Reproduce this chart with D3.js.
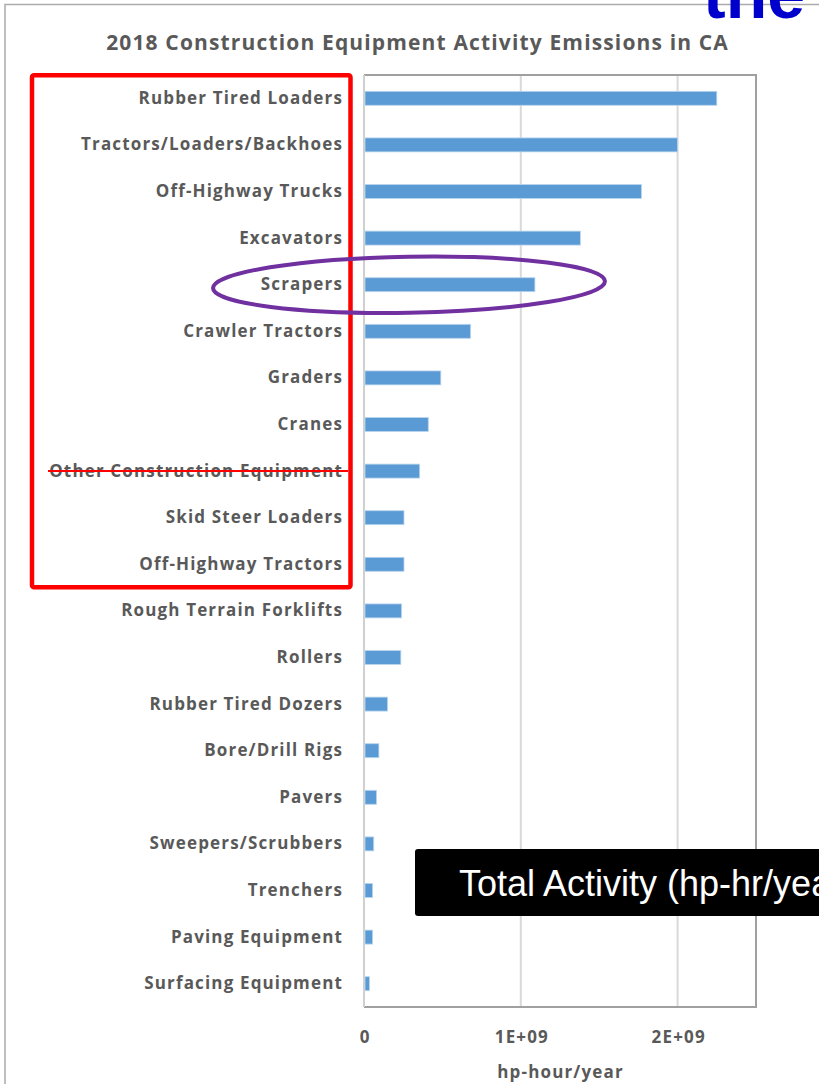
<!DOCTYPE html>
<html>
<head>
<meta charset="utf-8">
<script src="https://cdn.jsdelivr.net/npm/d3@7/dist/d3.min.js"></script>
<style>
  html, body { margin: 0; padding: 0; background: #fff; }
  svg { display: block; }
</style>
</head>
<body>
<svg id="chart" width="819" height="1084"></svg>
<script>
// Equipment types, ordered by activity
const categories = [
  "Rubber Tired Loaders",
  "Tractors/Loaders/Backhoes",
  "Off-Highway Trucks",
  "Excavators",
  "Scrapers",
  "Crawler Tractors",
  "Graders",
  "Cranes",
  "Other Construction Equipment",
  "Skid Steer Loaders",
  "Off-Highway Tractors",
  "Rough Terrain Forklifts",
  "Rollers",
  "Rubber Tired Dozers",
  "Bore/Drill Rigs",
  "Pavers",
  "Sweepers/Scrubbers",
  "Trenchers",
  "Paving Equipment",
  "Surfacing Equipment"
];

// Total activity, hp-hour/year
const activity = [
  2.25e9, 2.0e9, 1.77e9, 1.38e9, 1.09e9, 0.68e9, 0.49e9, 0.41e9,
  0.355e9, 0.255e9, 0.255e9, 0.24e9, 0.235e9, 0.15e9, 0.095e9,
  0.08e9, 0.062e9, 0.055e9, 0.055e9, 0.035e9
];

const tickValues = [0, 1e9, 2e9];
const tickLabels = ["0", "1E+09", "2E+09"];

const chartTitle = "2018 Construction Equipment Activity Emissions in CA";
const axisTitle = "hp-hour/year";
const calloutText = "Total Activity (hp-hr/year)";
const headingFragment = "the";
const struckCategory = "Other Construction Equipment";
const circledCategory = "Scrapers";
const boxedCategories = categories.slice(0, 11);

const svg = d3.select("#chart");
const textGray = "#595959";
const labelFont = "'Open Sans', Lato, sans-serif";
const spacing = 1.15;

const plot = { left: 364, right: 756, top: 75, bottom: 1007 };

const x = d3.scaleLinear().domain([0, 2.5e9]).range([plot.left, plot.right]);
const y = d3.scaleBand().domain(categories).range([plot.top, plot.bottom])
  .paddingInner(0.7).paddingOuter(0.35);

// outer chart frame
svg.append("path")
  .attr("d", `M5,1084 V4.5 H819`)
  .attr("fill", "none").attr("stroke", "#ababab").attr("stroke-width", 1.5);

// slide heading fragment peeking in above the chart
svg.append("text")
  .attr("x", 703).attr("y", 18)
  .attr("font-family", "'Liberation Sans', Arial, sans-serif")
  .attr("font-weight", "bold").attr("font-size", 68)
  .attr("fill", "#0000CC")
  .text(headingFragment);

// title
svg.append("text")
  .attr("x", 417 + spacing / 2).attr("y", 50)
  .attr("text-anchor", "middle")
  .attr("font-family", labelFont).attr("font-weight", "bold")
  .attr("font-size", 21).attr("letter-spacing", spacing).attr("fill", textGray)
  .text(chartTitle);

// vertical gridlines
svg.append("g")
  .selectAll("line")
  .data(tickValues.filter(d => d > 0))
  .join("line")
  .attr("x1", d => x(d)).attr("x2", d => x(d))
  .attr("y1", plot.top).attr("y2", plot.bottom)
  .attr("stroke", "#d9d9d9").attr("stroke-width", 2);

// plot border
svg.append("path")
  .attr("d", `M${plot.left},${plot.top} H${plot.right} V${plot.bottom} H${plot.left}`)
  .attr("fill", "none").attr("stroke", "#a0a0a0").attr("stroke-width", 2);
svg.append("line")
  .attr("x1", plot.left).attr("x2", plot.left)
  .attr("y1", plot.top).attr("y2", plot.bottom)
  .attr("stroke", "#d0d0d0").attr("stroke-width", 2);

// bars
svg.append("g")
  .selectAll("rect")
  .data(categories.map((c, i) => ({ c, v: activity[i] })))
  .join("rect")
  .attr("x", x(0) + 1)
  .attr("y", d => y(d.c))
  .attr("width", d => x(d.v) - x(0) - 1)
  .attr("height", y.bandwidth())
  .attr("fill", "#5b9bd5")
  .attr("stroke", "#bcd6ee").attr("stroke-width", 0.8);

// category labels
const yAxis = d3.axisLeft(y).tickSize(0).tickPadding(21);
const yg = svg.append("g").attr("transform", `translate(${plot.left},0)`).call(yAxis);
yg.select(".domain").remove();
yg.selectAll("text")
  .attr("font-family", labelFont).attr("font-weight", "bold")
  .attr("font-size", 17).attr("letter-spacing", spacing).attr("fill", textGray);

// x tick labels
const xAxis = d3.axisBottom(x).tickValues(tickValues)
  .tickFormat((d, i) => tickLabels[i]).tickSize(0).tickPadding(24);
const xg = svg.append("g").attr("transform", `translate(${spacing / 2},${plot.bottom})`).call(xAxis);
xg.select(".domain").remove();
xg.selectAll("text")
  .attr("font-family", labelFont).attr("font-weight", "bold")
  .attr("font-size", 17).attr("letter-spacing", spacing).attr("fill", textGray);

// axis title
svg.append("text")
  .attr("x", (plot.left + plot.right) / 2 + spacing / 2).attr("y", 1078)
  .attr("text-anchor", "middle")
  .attr("font-family", labelFont).attr("font-weight", "bold")
  .attr("font-size", 17).attr("letter-spacing", spacing).attr("fill", textGray)
  .text(axisTitle);

// red box around the leading equipment types
const bFirst = y(boxedCategories[0]);
const bLast = y(boxedCategories[boxedCategories.length - 1]) + y.bandwidth();
svg.append("rect")
  .attr("x", 32).attr("y", bFirst - 16)
  .attr("width", 318.5).attr("height", bLast - bFirst + 32)
  .attr("rx", 2)
  .attr("fill", "none").attr("stroke", "#ff0000").attr("stroke-width", 4.5);

// strike-through on the excluded category
const sy = y(struckCategory) + y.bandwidth() / 2;
svg.append("line")
  .attr("x1", 48).attr("x2", 348).attr("y1", sy).attr("y2", sy)
  .attr("stroke", "#ff0000").attr("stroke-width", 2);

// ellipse around the highlighted category
const cy = y(circledCategory) + y.bandwidth() / 2;
svg.append("ellipse")
  .attr("cx", 409).attr("cy", cy)
  .attr("rx", 196).attr("ry", 28)
  .attr("transform", `rotate(-1, 409, ${cy})`)
  .attr("fill", "none").attr("stroke", "#7030a0").attr("stroke-width", 4);

// callout box
svg.append("rect")
  .attr("x", 415).attr("y", 849)
  .attr("width", 420).attr("height", 67)
  .attr("rx", 3).attr("fill", "#000");
svg.append("text")
  .attr("x", 459).attr("y", 896)
  .attr("font-family", "'Liberation Sans', Arial, sans-serif")
  .attr("font-size", 36).attr("fill", "#fff")
  .text(calloutText);
</script>
</body>
</html>
